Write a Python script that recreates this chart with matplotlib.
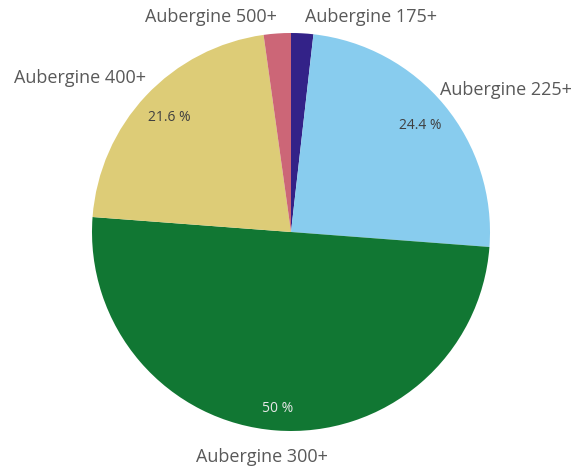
import matplotlib
matplotlib.use("Agg")
import matplotlib.pyplot as plt
import numpy as np

categories = ["Aubergine 175+", "Aubergine 225+", "Aubergine 300+", "Aubergine 400+", "Aubergine 500+"]
values = [1.8, 24.4, 50.0, 21.6, 2.2]
pct_labels = ["", "24.4 %", "50 %", "21.6 %", ""]
colors = ["#332288", "#88CCEE", "#117733", "#DDCC77", "#CC6677"]
pct_colors = ["#333333", "#404040", "#e8e8e8", "#404040", "#333333"]
pct_dist = [0.84, 0.84, 0.89, 0.84, 0.84]

W, H = 577, 471
fig = plt.figure(figsize=(W / 100, H / 100), dpi=100)
cx, cy, R = 291, 232, 199
ax = fig.add_axes([(cx - R) / W, (H - cy - R) / H, 2 * R / W, 2 * R / H])

wedges, _ = ax.pie(values, colors=colors, startangle=90, counterclock=False,
                   radius=1.0, wedgeprops=dict(linewidth=0))
ax.set_xlim(-1, 1)
ax.set_ylim(-1, 1)
ax.set_aspect("equal")
ax.axis("off")

# percent labels
total = sum(values)
start = 90.0
for v, t, c, d in zip(values, pct_labels, pct_colors, pct_dist):
    ang = start - v / total * 360 / 2
    start -= v / total * 360
    if t:
        ax.text(d * np.cos(np.radians(ang)), d * np.sin(np.radians(ang)), t,
                ha="center", va="center", fontsize=10, color=c, family="Open Sans")

# category labels placed in pixel positions (layout)
label_pos = {
    "Aubergine 175+": (371, 17),
    "Aubergine 225+": (506, 90),
    "Aubergine 300+": (262, 457),
    "Aubergine 400+": (80, 78),
    "Aubergine 500+": (211, 17),
}
for cat in categories:
    px, py = label_pos[cat]
    fig.text(px / W, 1 - py / H, cat, ha="center", va="center",
             fontsize=13, color="#595959", family="Open Sans")

fig.savefig("out.png", dpi=100)
